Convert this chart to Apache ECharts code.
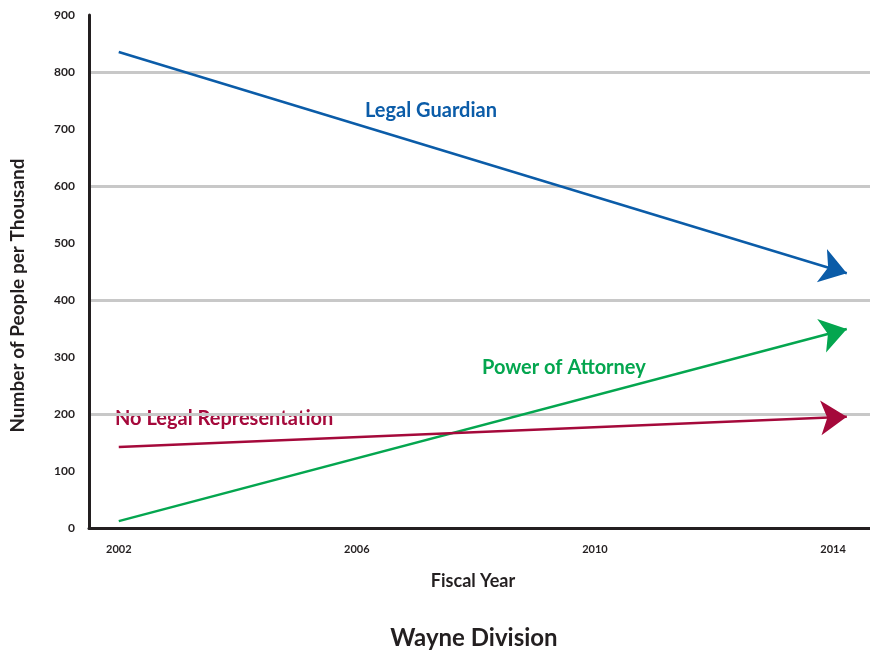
<!DOCTYPE html>
<html>
<head>
<meta charset="utf-8">
<script src="https://cdn.jsdelivr.net/npm/echarts@6/dist/echarts.min.js"></script>
<style>
  html, body { margin: 0; padding: 0; background: #fff; }
  #main { width: 870px; height: 652px; }
</style>
</head>
<body>
<div id="main"></div>
<script type="text/javascript">
    // 数据（箭头尖端略超过 2014）
    var years = [2002, 2014.23];
    var xTicks = [2002, 2006, 2010, 2014];
    var legalGuardian = [835, 447];
    var powerOfAttorney = [12, 349];
    var noLegalRep = [142, 195];

    var FONT = 'Lato';
    var INK = '#231f20';
    var BLUE = '#0b5ca8';
    var GREEN = '#04a64f';
    var RED = '#a5093b';

    function arrowSeries(name, values, color){
        return {
            name: name,
            type: 'lines',
            coordinateSystem: 'cartesian2d',
            symbol: ['none', 'arrow'],
            symbolSize: [18, 26],
            lineStyle: { color: color, width: 2.5, opacity: 1, curveness: 0 },
            silent: true,
            data: [{ coords: [[years[0], values[0]], [years[1], values[1]]] }]
        };
    }

    var myChart = echarts.init(document.getElementById('main'));

    var option = {
        animation: false,
        textStyle: { fontFamily: FONT },
        title: {
            text: 'Wayne Division',
            left: 469,
            top: 621,
            textAlign: 'center',
            textStyle: { fontFamily: FONT, fontSize: 24, fontWeight: 'bold', color: INK }
        },
        grid: { left: 87, right: 0, top: 15, bottom: 124, containLabel: false },
        xAxis: {
            type: 'value',
            min: 2001.5,
            max: 2014.62,
            name: 'Fiscal Year',
            nameLocation: 'middle',
            nameGap: 44,
            nameTextStyle: { fontFamily: FONT, fontSize: 18, fontWeight: 'bold', color: INK, padding: [0, 13, 0, 0] },
            axisLine: { show: true, lineStyle: { color: INK, width: 3 } },
            axisTick: { show: false },
            splitLine: { show: false },
            axisLabel: {
                customValues: xTicks,
                margin: 16,
                fontFamily: FONT, fontSize: 11, fontWeight: 'bold', color: INK,
                formatter: function(v){ return String(v); }
            }
        },
        yAxis: {
            type: 'value',
            min: 0,
            max: 900,
            interval: 100,
            name: 'Number of People per Thousand',
            nameLocation: 'middle',
            nameGap: 62,
            nameTextStyle: { fontFamily: FONT, fontSize: 19, fontWeight: 'bold', color: INK, padding: [0, 0, 0, -48] },
            axisLine: { show: true, lineStyle: { color: INK, width: 3 } },
            axisTick: { show: false },
            axisLabel: { margin: 14, fontFamily: FONT, fontSize: 12, fontWeight: 'bold', color: INK },
            splitLine: { show: true, lineStyle: { color: ['#c8c8c8', 'transparent'], width: 3 } }
        },
        graphic: [
            { type: 'text', left: 365, top: 101, style: { text: 'Legal Guardian', fill: BLUE, font: 'bold 20px ' + FONT } },
            { type: 'text', left: 482, top: 358, style: { text: 'Power of Attorney', fill: GREEN, font: 'bold 20px ' + FONT } },
            { type: 'text', left: 115, top: 409, style: { text: 'No Legal Representation', fill: RED, font: 'bold 20px ' + FONT } }
        ],
        series: [
            arrowSeries('Legal Guardian', legalGuardian, BLUE),
            arrowSeries('Power of Attorney', powerOfAttorney, GREEN),
            arrowSeries('No Legal Representation', noLegalRep, RED)
        ]
    };

    myChart.setOption(option);
</script>
</body>
</html>
